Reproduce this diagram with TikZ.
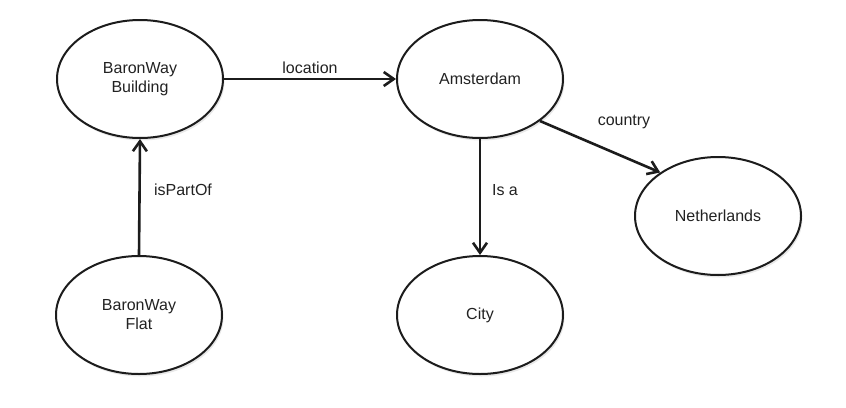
\documentclass[tikz,border=0pt]{standalone}
\usepackage{fontspec}
\setmainfont{Liberation Sans}
\usetikzlibrary{arrows.meta,shapes.geometric,shadows}
\definecolor{ink}{HTML}{1C1C1C}
\definecolor{txt}{HTML}{222222}
\begin{document}
\begin{tikzpicture}[x=1pt,y=-1pt,
  concept/.style={ellipse,draw=ink,line width=2pt,fill=white,inner sep=0pt,
    minimum width=166pt,minimum height=118pt,align=center,text=txt,
    font=\fontsize{16}{19}\selectfont,
    drop shadow={opacity=0.18,shadow xshift=1.5pt,shadow yshift=-2.5pt}},
  rel/.style={draw=ink,line width=2.6pt,-{Straight Barb[length=10pt,width=14pt]}},
  lbl/.style={text=txt,font=\fontsize{16}{19}\selectfont,inner sep=0pt}]
\useasboundingbox[fill=white] (0,0) rectangle (846,407);
\node[concept] (bw) at (140,79) {BaronWay\\Building};
\node[concept] (am) at (480,79) {Amsterdam};
\node[concept] (nl) at (718,216) {Netherlands};
\node[concept] (ci) at (480,315) {City};
\node[concept] (fl) at (139,315) {BaronWay\\Flat};
\draw[rel] (bw.east) -- (am.west);
\draw[rel] (fl.north) -- (bw.south);
\draw[rel] (am.south) -- (ci.north);
\draw[rel] (am.-35) -- (nl.143);
\node[lbl] (l1) at (310,68) {location};
\node[lbl] (l2) at (183,190) {isPartOf};
\node[lbl] (l3) at (505,190) {Is a};
\node[lbl] (l4) at (624,122) {country};
\end{tikzpicture}
\end{document}
